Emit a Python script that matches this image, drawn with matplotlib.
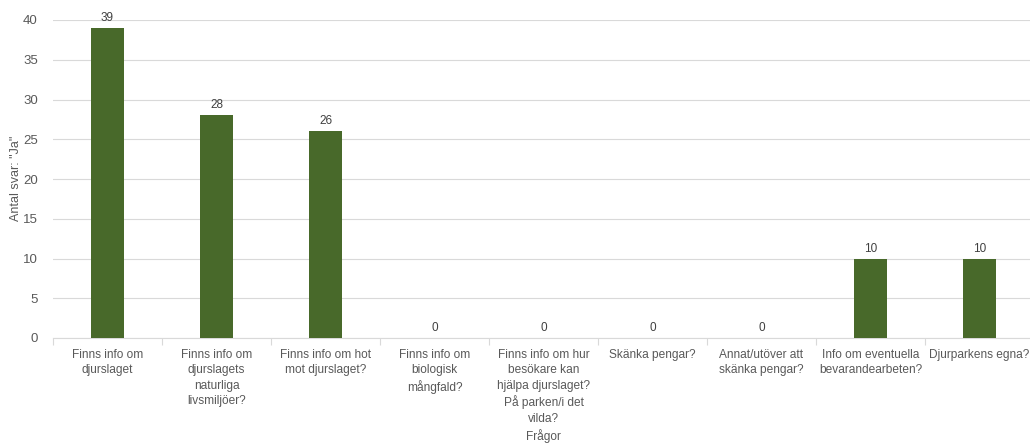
import numpy as np
import matplotlib.pyplot as plt

# Data
categories = [
    "Finns info om\ndjurslaget",
    "Finns info om\ndjurslagets\nnaturliga\nlivsmiljöer?",
    "Finns info om hot\nmot djurslaget?",
    "Finns info om\nbiologisk\nmångfald?",
    "Finns info om hur\nbesökare kan\nhjälpa djurslaget?\nPå parken/i det\nvilda?\nFrågor",
    "Skänka pengar?",
    "Annat/utöver att\nskänka pengar?",
    "Info om eventuella\nbevarandearbeten?",
    "Djurparkens egna?",
]
values = [39, 28, 26, 0, 0, 0, 0, 10, 10]
yticks = [0, 5, 10, 15, 20, 25, 30, 35, 40]

plt.rcParams['font.family'] = ['Liberation Sans', 'DejaVu Sans']

fig = plt.figure(figsize=(10.30, 4.43), dpi=100)
ax = fig.add_axes([53 / 1030, 1 - 338 / 443, (1034 - 53) / 1030, (338 - 20) / 443])

x = np.arange(len(categories))
ax.bar(x, values, width=0.31, color='#48692A', zorder=3)

for xi, v in zip(x, values):
    ax.text(xi, v + 0.5, str(v), ha='center', va='bottom', fontsize=8.5, color='#404040')

ax.set_xlim(-0.5, len(categories) - 0.5)
ax.set_ylim(0, 40)
ax.set_yticks(yticks)
ax.yaxis.grid(True, color='#d9d9d9', linewidth=0.8, zorder=0)
ax.tick_params(axis='y', length=0, labelsize=9.5, colors='#595959', pad=11)

ax.set_xticks(x)
ax.set_xticklabels(categories, fontsize=8.6, color='#595959', linespacing=1.36, va='top')
ax.tick_params(axis='x', which='major', length=0, pad=8)
ax.set_xticks(np.arange(len(categories) + 1) - 0.5, minor=True)
ax.tick_params(axis='x', which='minor', length=5, color='#d9d9d9', width=0.8)

for side in ['top', 'right', 'left']:
    ax.spines[side].set_visible(False)
ax.spines['bottom'].set_color('#d9d9d9')
ax.spines['bottom'].set_linewidth(0.8)

fig.text(16 / 1030, 1 - 178 / 443, 'Antal svar: "Ja"', rotation=90, ha='center', va='center',
         fontsize=9, color='#595959')

fig.savefig('out.png', dpi=100)
